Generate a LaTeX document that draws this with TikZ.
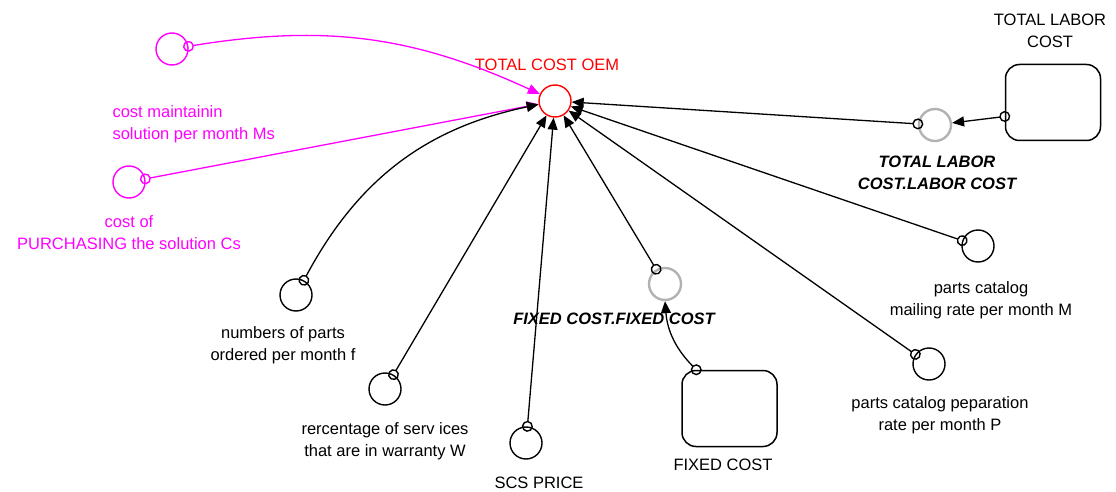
\documentclass[tikz,border=0pt]{standalone}
\usepackage{fontspec}
\setmainfont{Liberation Sans}
\usetikzlibrary{arrows.meta}
\definecolor{vmagenta}{RGB}{255,0,255}
\definecolor{vred}{RGB}{255,0,0}

\begin{document}
\begin{tikzpicture}[x=1pt, y=1pt, font=\fontsize{16.5}{22}\selectfont,
    aux/.style={draw, circle, minimum size=32pt, inner sep=0pt, line width=1.4pt},
    shadow/.style={aux, draw=gray!60, line width=2.4pt},
    stock/.style={draw, rectangle, rounded corners=14pt, minimum width=95pt, minimum height=76pt, line width=1.5pt},
    link/.style={{Circle[open,length=11pt,width=11pt,line width=1.4pt]}-{Triangle[length=12pt,width=10pt]}, line width=1.3pt, shorten <=-5.5pt},
    bi/.style={font=\fontsize{16.5}{22}\selectfont\bfseries\itshape, align=center}]
        \useasboundingbox (0,0) rectangle (1116,-492);

        % variables
        \node (oem) [aux, draw=vred] at (555,-101) {};
        \node (ms) [aux, draw=vmagenta] at (172,-49) {};
        \node (cs) [aux, draw=vmagenta] at (129,-182) {};
        \node (f) [aux] at (296,-295) {};
        \node (w) [aux] at (385,-389) {};
        \node (scs) [aux] at (526,-443) {};
        \node (m) [aux] at (978,-246) {};
        \node (p) [aux] at (929,-364) {};
        \node (fixedsh) [shadow] at (665,-284) {};
        \node (laborsh) [shadow] at (935,-125) {};
        \node (fixed) [stock] at (729.5,-408.5) {};
        \node (labor) [stock] at (1053,-102.5) {};

        % names
        \node (oemlbl) [text=vred] at (547,-65) {TOTAL COST OEM};
        \node (mslbl) [text=vmagenta, align=left, anchor=west] at (109,-124) {cost maintainin\\solution per month Ms};
        \node (cslbl) [text=vmagenta, align=center] at (129,-233) {cost of\\PURCHASING the solution Cs};
        \node (flbl) [align=center] at (283,-345) {numbers of parts\\ordered per month f};
        \node (wlbl) [align=center] at (385,-441) {rercentage of serv ices\\that are in warranty W};
        \node (scslbl) at (539,-483) {SCS PRICE};
        \node (mlbl) [align=center] at (981,-300) {parts catalog\\mailing rate per month M};
        \node (plbl) [align=center] at (940,-415) {parts catalog peparation\\rate per month P};
        \node (fixedshlbl) [bi] at (614,-319) {FIXED COST.FIXED COST};
        \node (laborshlbl) [bi] at (937,-173) {TOTAL LABOR\\COST.LABOR COST};
        \node (fixedlbl) at (723,-465) {FIXED COST};
        \node (laborlbl) [align=center] at (1050,-31) {TOTAL LABOR\\COST};

        % links
        \draw [link, vmagenta] (ms) to[bend left=17] (oem);
        \draw [link, vmagenta] (cs) -- (oem);
        \draw [link] (f) to[bend left=25] (oem);
        \draw [link] (w) -- (oem);
        \draw [link] (scs) -- (oem);
        \draw [link] (fixedsh) -- (oem);
        \draw [link] (p) -- (oem);
        \draw [link] (m) -- (oem);
        \draw [link] (laborsh) -- (oem);
        \draw [link] ([xshift=15pt]fixed.north west) to[bend left=20] (fixedsh);
        \draw [link] ([yshift=-14pt]labor.west) -- (laborsh);
    \end{tikzpicture}
\end{document}
